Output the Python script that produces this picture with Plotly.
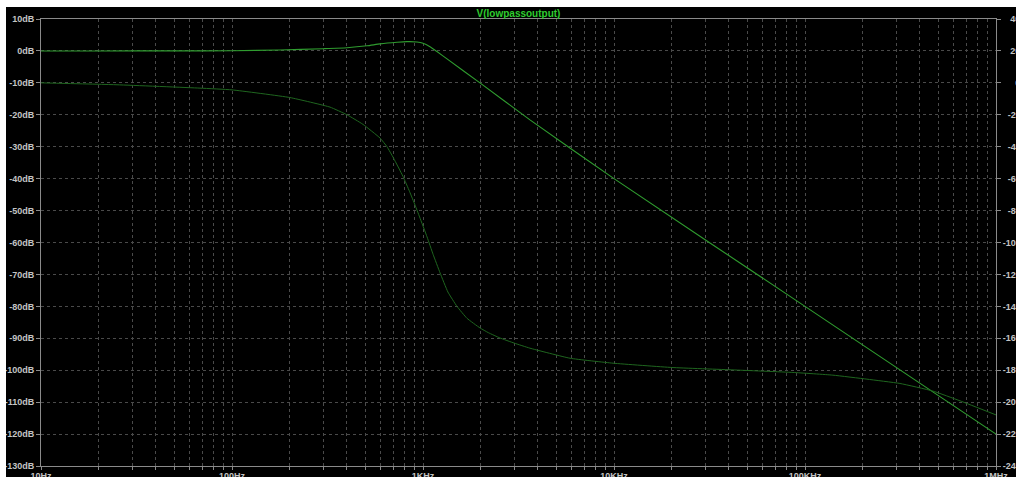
import plotly.graph_objects as go

# ---- data ----
mag_freq = [10, 20, 50, 100, 178, 300, 400, 509, 596, 731, 824, 930, 1000, 1088, 1183,
            1336, 1987, 3631, 10000, 100000, 1000000]
mag_db = [0.0, 0.0, 0.02, 0.05, 0.3, 0.7, 1.0, 1.6, 2.2, 2.7, 2.9, 2.8, 2.4, 1.3, -0.2,
          -2.5, -10.0, -21.6, -40.0, -80.0, -120.0]

ph_freq = [10, 25, 68, 100, 201, 326, 400, 485, 596, 648, 700, 785, 850, 908, 960, 1050,
           1130, 1228, 1350, 1506, 1700, 1987, 2200, 2529, 3000, 3631, 5888, 9886, 20140,
           42000, 86500, 140000, 211000, 314000, 466000, 649000, 1000000]
ph_deg = [0.0, -1.2, -3.3, -4.4, -9.2, -15.2, -20.0, -26.0, -34.6, -40.0, -47.0, -58.5,
          -68.0, -76.5, -84.0, -96.5, -107.5, -119.0, -131.0, -140.0, -147.5, -153.5,
          -156.5, -159.8, -163.0, -166.2, -172.5, -175.6, -178.3, -179.8, -181.4, -183.1,
          -185.6, -188.3, -193.0, -199.2, -208.0]

x_tick_vals = [10, 100, 1000, 10000, 100000, 1000000]
x_tick_text = ["10Hz", "100Hz", "1KHz", "10KHz", "100KHz", "1MHz"]
db_ticks = list(range(10, -131, -10))
deg_ticks = list(range(40, -241, -20))
title_text = "V(lowpassoutput)"

# ---- styling ----
FIG_W, FIG_H = 1016, 477
L, R, T, B = 41, 20, 19, 11
PW, PH = FIG_W - L - R, FIG_H - T - B
AXIS_COL = "#8a8a8a"
GRID_COL = "#4a4a4a"
LABEL_COL = "#c4c4c4"
FONT = "Liberation Sans"
WHITE_TOP, WHITE_LEFT = 7, 6

minor_x = [m * d for d in [10, 100, 1000, 10000, 100000] for m in range(2, 10)]


def pad_label(v):
    s = str(abs(v))
    digits_pad = "\u2007" * (3 - len(s))
    minus_pad = "" if v < 0 else "\u2008"
    return digits_pad + minus_pad + ("-" if v < 0 else "") + s + "°"


def px_x(p):
    return (p - L) / PW


def px_y(p):
    return (FIG_H - B - p) / PH


fig = go.Figure()
fig.add_trace(go.Scatter(x=mag_freq, y=mag_db, mode="lines",
                         line=dict(color="#2f9c2f", width=1.1, shape="spline", smoothing=0.5),
                         hoverinfo="skip", showlegend=False))
fig.add_trace(go.Scatter(x=ph_freq, y=ph_deg, mode="lines", yaxis="y2",
                         line=dict(color="#1f661f", width=1.0, shape="spline", smoothing=0.4),
                         hoverinfo="skip", showlegend=False))

tickfont = dict(family=FONT, size=9, color=LABEL_COL, weight="bold")

fig.update_layout(
    width=FIG_W, height=FIG_H,
    margin=dict(l=L, r=R, t=T, b=B, pad=0, autoexpand=False),
    paper_bgcolor="black", plot_bgcolor="black",
    showlegend=False,
    title=dict(text=title_text, x=(L + PW / 2) / FIG_W, xanchor="center",
               y=1 - 13 / FIG_H, yanchor="middle", yref="container", automargin=False,
               font=dict(family=FONT, size=10, color="#2fcc2f", weight="bold")),
    xaxis=dict(type="log", range=[1, 6], showline=True, linecolor=AXIS_COL, linewidth=1,
               mirror=True, tickvals=x_tick_vals, ticktext=x_tick_text, automargin=False,
               ticks="outside", ticklen=3, tickcolor=AXIS_COL, ticklabelstandoff=-2,
               showgrid=True, gridcolor=GRID_COL, griddash="dot", gridwidth=1,
               tickfont=tickfont, zeroline=False, fixedrange=True,
               minor=dict(tickvals=minor_x, showgrid=True, gridcolor=GRID_COL,
                          griddash="dot", gridwidth=1, ticks="outside", ticklen=3,
                          tickcolor=AXIS_COL)),
    yaxis=dict(range=[-130, 10], tickvals=db_ticks, ticktext=[f"{v}dB" for v in db_ticks],
               showline=True, linecolor=AXIS_COL, linewidth=1, automargin=False,
               ticks="outside", ticklen=4, tickcolor=AXIS_COL,
               showgrid=True, gridcolor=GRID_COL, griddash="dot", gridwidth=1,
               tickfont=tickfont, zeroline=False, fixedrange=True),
    yaxis2=dict(range=[-240, 40], tickvals=deg_ticks, ticktext=[pad_label(v) for v in deg_ticks],
                overlaying="y", side="right", showline=True, linecolor=AXIS_COL, linewidth=1,
                ticks="outside", ticklen=4, tickcolor=AXIS_COL, showgrid=False,
                automargin=False,
                tickfont=tickfont, zeroline=False, fixedrange=True),
    shapes=[
        dict(type="rect", xref="paper", yref="paper",
             x0=px_x(0), x1=px_x(FIG_W), y0=px_y(WHITE_TOP), y1=px_y(0),
             fillcolor="white", line=dict(width=0), layer="above"),
        dict(type="rect", xref="paper", yref="paper",
             x0=px_x(0), x1=px_x(WHITE_LEFT), y0=px_y(FIG_H), y1=px_y(0),
             fillcolor="white", line=dict(width=0), layer="above"),
    ],
)

fig.write_html("out.html", config={"displayModeBar": False},
               post_script="document.body.style.margin='0';document.body.style.overflow='hidden';")
